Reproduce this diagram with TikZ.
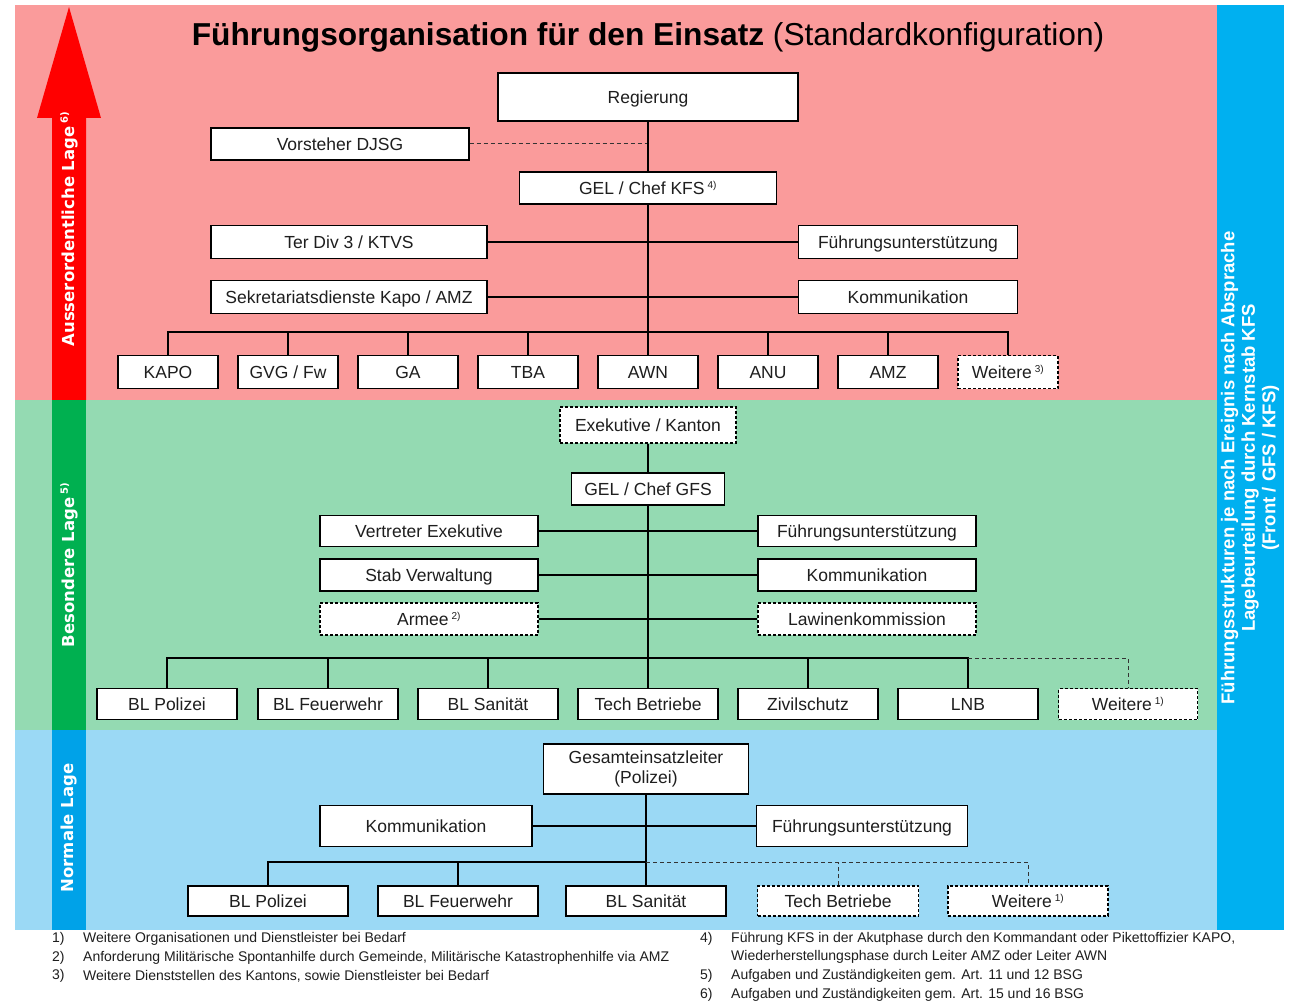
\documentclass[tikz,border=0pt]{standalone}
\usepackage{fontspec}
\setmainfont{Liberation Sans}
\newfontfamily\barfont{DejaVu Sans}
\definecolor{redband}{RGB}{250,155,155}
\definecolor{greenband}{RGB}{148,218,178}
\definecolor{blueband}{RGB}{155,217,245}
\definecolor{greenbar}{RGB}{0,176,80}
\definecolor{bluebar}{RGB}{0,162,232}
\definecolor{sidebar}{RGB}{0,176,240}
\definecolor{txt}{RGB}{30,30,30}
\tikzset{
  box/.style={draw=black, fill=white, line width=1.1pt, inner sep=0pt, text=txt,
    text height=15pt, text depth=1.5pt, font=\fontsize{17.5}{20}\selectfont},
  dbox/.style={box, dash pattern=on 3pt off 2pt},
  conn/.style={line width=1.1pt, draw=black},
  dconn/.style={line width=1pt, draw=black!80, dash pattern=on 4pt off 3pt},
  barlabel/.style={rotate=90, text=white, font=\barfont\fontsize{16.5}{19}\selectfont\bfseries},
  fn/.style={anchor=west, inner sep=0pt, text=txt, font=\fontsize{14}{17}\selectfont},
}
\newcommand{\fnm}[1]{\,\textsuperscript{\fontsize{10}{10}\selectfont #1)}}
\begin{document}
\begin{tikzpicture}[x=1pt,y=-1pt]
\useasboundingbox (0,0) rectangle (1289,1003);
\fill[white] (0,0) rectangle (1289,1003);
% bands
\fill[redband] (15,5) rectangle (1217,400);
\fill[greenband] (15,400) rectangle (1217,730);
\fill[blueband] (15,730) rectangle (1217,930);
\fill[sidebar] (1217,5) rectangle (1284,930);
% left bars
\fill[red] (52,400) -- (52,118) -- (37,118) -- (69,7) -- (101,118) -- (86,118) -- (86,400) -- cycle;
\fill[greenbar] (52,400) rectangle (86,730);
\fill[bluebar] (52,730) rectangle (86,930);
\node[barlabel] (lag1) at (69,229) {Ausserordentliche Lage\fnm{6}};
\node[barlabel] (lag2) at (69,565) {Besondere Lage\fnm{5}};
\node[barlabel] (lag3) at (69,828) {Normale Lage};
\node[rotate=90, text=white, align=center, font=\fontsize{18.5}{20.5}\selectfont\bfseries] (side) at (1250,468)
  {Führungsstrukturen je nach Ereignis nach Absprache\\Lagebeurteilung durch Kernstab KFS\\(Front / GFS / KFS)};
% title
\node[text=black, font=\fontsize{31.7}{36}\selectfont] (title) at (648,37)
  {\textbf{Führungsorganisation für den Einsatz} (Standardkonfiguration)};

% ---------- red section ----------
\node[box, minimum width=300, minimum height=48] (reg) at (648,97) {Regierung};
\node[box, minimum width=258, minimum height=32] (vor) at (340,144) {Vorsteher DJSG};
\node[box, minimum width=257, minimum height=32] (gelk) at (648,188) {GEL / Chef KFS\fnm{4}};
\node[box, minimum width=276, minimum height=33] (ter) at (349,242) {Ter Div 3 / KTVS};
\node[box, minimum width=219, minimum height=33] (fu1) at (908,242) {Führungsunterstützung};
\node[box, minimum width=276, minimum height=33] (sek) at (349,297) {Sekretariatsdienste Kapo / AMZ};
\node[box, minimum width=219, minimum height=33] (ko1) at (908,297) {Kommunikation};
\foreach \n/\x/\t in {kapo/168/KAPO, gvg/288/{GVG / Fw}, ga/408/GA, tba/528/TBA, awn/648/AWN, anu/768/ANU, amz/888/AMZ}
  \node[box, minimum width=100, minimum height=33] (\n) at (\x,372) {\t};
\node[dbox, minimum width=100, minimum height=33] (wei3) at (1008,372) {Weitere\fnm{3}};
\coordinate (bus1) at (648,332);
\draw[dconn] (vor.east) -- (vor.east -| reg.south);
\draw[conn] (reg.south) -- (gelk.north);
\draw[conn] (gelk.south) -- (awn.north);
\draw[conn] (ter.east) -- (fu1.west);
\draw[conn] (sek.east) -- (ko1.west);
\draw[conn] (kapo.north) |- (bus1) -| (wei3.north);
\foreach \n in {gvg,ga,tba,anu,amz}
  \draw[conn] (\n.north) -- (\n.north |- bus1);

% ---------- green section ----------
\node[dbox, minimum width=176, minimum height=36] (exe) at (648,425) {Exekutive / Kanton};
\node[box, minimum width=153, minimum height=32] (gelg) at (648,489) {GEL / Chef GFS};
\node[box, minimum width=218, minimum height=31] (ver) at (429,531) {Vertreter Exekutive};
\node[box, minimum width=218, minimum height=31] (fu2) at (867,531) {Führungsunterstützung};
\node[box, minimum width=218, minimum height=32] (stab) at (429,575) {Stab Verwaltung};
\node[box, minimum width=218, minimum height=32] (ko2) at (867,575) {Kommunikation};
\node[dbox, minimum width=218, minimum height=32] (arm) at (429,619) {Armee\fnm{2}};
\node[dbox, minimum width=218, minimum height=32] (law) at (867,619) {Lawinenkommission};
\foreach \n/\x/\t in {blp2/167/BL Polizei, blf2/328/BL Feuerwehr, bls2/488/BL Sanität, tech2/648/Tech Betriebe, ziv/808/Zivilschutz, lnb/968/LNB}
  \node[box, minimum width=140, minimum height=31] (\n) at (\x,704) {\t};
\node[dbox, minimum width=139, minimum height=31] (wei2) at (1128,704) {Weitere\fnm{1}};
\coordinate (bus2) at (648,658);
\draw[conn] (exe.south) -- (gelg.north);
\draw[conn] (gelg.south) -- (tech2.north);
\draw[conn] (ver.east) -- (fu2.west);
\draw[conn] (stab.east) -- (ko2.west);
\draw[conn] (arm.east) -- (law.west);
\draw[conn] (blp2.north) |- (bus2) -| (lnb.north);
\foreach \n in {blf2,bls2,ziv}
  \draw[conn] (\n.north) -- (\n.north |- bus2);
\draw[dconn] (lnb.north |- bus2) -| (wei2.north);

% ---------- blue section ----------
\node[box, minimum width=205, minimum height=50, align=center, text height=, text depth=] (gel) at (646,769) {Gesamteinsatzleiter\\(Polizei)};
\node[box, minimum width=212, minimum height=41] (ko3) at (426,826) {Kommunikation};
\node[box, minimum width=211, minimum height=41] (fu3) at (862,826) {Führungsunterstützung};
\node[box, minimum width=160, minimum height=30] (blp3) at (268,901) {BL Polizei};
\node[box, minimum width=160, minimum height=30] (blf3) at (458,901) {BL Feuerwehr};
\node[box, minimum width=160, minimum height=30] (bls3) at (646,901) {BL Sanität};
\node[dbox, minimum width=161, minimum height=30] (tech3) at (838,901) {Tech Betriebe};
\node[dbox, minimum width=160, minimum height=30] (wei1) at (1028,901) {Weitere\fnm{1}};
\coordinate (bus3) at (646,862);
\draw[conn] (gel.south) -- (bls3.north);
\draw[conn] (ko3.east) -- (fu3.west);
\draw[conn] (blp3.north) |- (bus3);
\draw[conn] (blf3.north) -- (blf3.north |- bus3);
\draw[dconn] (bus3) -| (wei1.north);
\draw[dconn] (tech3.north) -- (tech3.north |- bus3);

% ---------- footnotes ----------
\node[fn] (n1) at (52,939) {1)};
\node[fn] (t1) at (83,939) {Weitere Organisationen und Dienstleister bei Bedarf};
\node[fn] (n2) at (52,958) {2)};
\node[fn] (t2) at (83,958) {Anforderung Militärische Spontanhilfe durch Gemeinde, Militärische Katastrophenhilfe via AMZ};
\node[fn] (n3) at (52,976) {3)};
\node[fn] (t3) at (83,976) {Weitere Dienststellen des Kantons, sowie Dienstleister bei Bedarf};
\node[fn] (n4) at (700,939) {4)};
\node[fn] (t4) at (731,939) {Führung KFS in der Akutphase durch den Kommandant oder Pikettoffizier KAPO,};
\node[fn] (t4b) at (731,957) {Wiederherstellungsphase durch Leiter AMZ oder Leiter AWN};
\node[fn] (n5) at (700,976) {5)};
\node[fn] (t5) at (731,976) {Aufgaben und Zuständigkeiten gem. Art. 11 und 12 BSG};
\node[fn] (n6) at (700,995) {6)};
\node[fn] (t6) at (731,995) {Aufgaben und Zuständigkeiten gem. Art. 15 und 16 BSG};
\end{tikzpicture}
\end{document}
